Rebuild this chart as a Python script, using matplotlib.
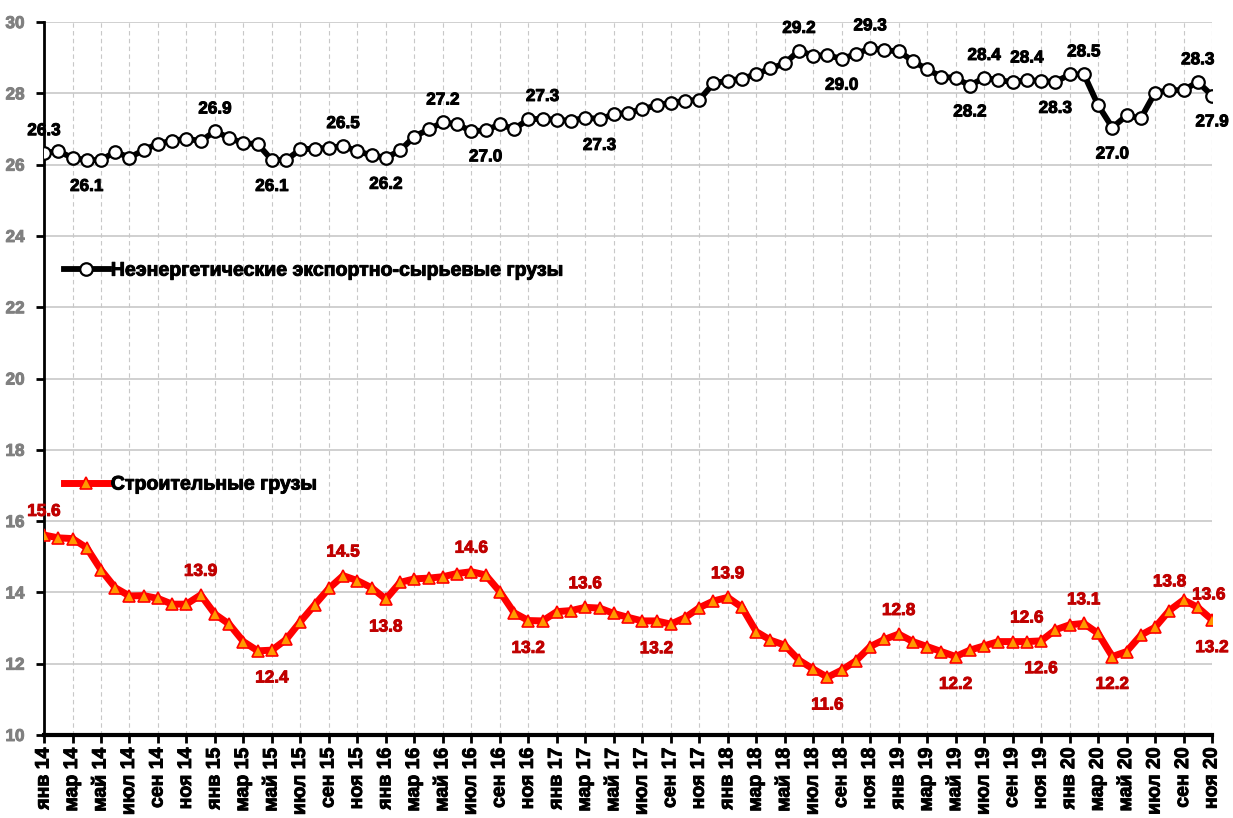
import matplotlib
matplotlib.use("Agg")
import matplotlib.pyplot as plt
from matplotlib import font_manager as fm
from matplotlib.font_manager import FontProperties
import matplotlib.patheffects as pe

plt.rcParams['font.family'] = ['Liberation Sans', 'DejaVu Sans']
plt.rcParams['font.weight'] = 'bold'

months = ["янв", "мар", "май", "июл", "сен", "ноя"]
years = ["14", "15", "16", "17", "18", "19", "20"]
tick_labels = [m + " " + y for y in years for m in months]

# неэнергетические экспортно-сырьевые грузы, янв 2014 - ноя 2020
export_raw = [
    26.33, 26.38, 26.19, 26.13, 26.13, 26.36, 26.20, 26.41, 26.59, 26.67,
    26.73, 26.66, 26.94, 26.75, 26.60, 26.58, 26.13, 26.13, 26.43, 26.45,
    26.47, 26.53, 26.37, 26.27, 26.19, 26.40, 26.79, 26.99, 27.19, 27.13,
    26.94, 26.96, 27.13, 27.00, 27.27, 27.29, 27.26, 27.23, 27.32, 27.28,
    27.41, 27.46, 27.55, 27.67, 27.74, 27.79, 27.82, 28.28, 28.36, 28.41,
    28.54, 28.70, 28.84, 29.20, 29.06, 29.07, 28.97, 29.10, 29.27, 29.21,
    29.18, 28.91, 28.67, 28.47, 28.43, 28.22, 28.44, 28.37, 28.32, 28.37,
    28.35, 28.32, 28.53, 28.54, 27.67, 27.04, 27.38, 27.30, 28.02, 28.09,
    28.09, 28.32, 27.94,
]

# строительные грузы
building = [
    15.61, 15.53, 15.51, 15.25, 14.63, 14.13, 13.90, 13.91, 13.83, 13.67,
    13.67, 13.93, 13.39, 13.11, 12.62, 12.36, 12.38, 12.68, 13.18, 13.65,
    14.11, 14.47, 14.33, 14.13, 13.81, 14.28, 14.38, 14.40, 14.44, 14.53,
    14.58, 14.49, 14.02, 13.43, 13.21, 13.20, 13.46, 13.49, 13.58, 13.56,
    13.41, 13.30, 13.20, 13.20, 13.11, 13.29, 13.57, 13.76, 13.86, 13.58,
    12.90, 12.66, 12.52, 12.10, 11.85, 11.62, 11.82, 12.08, 12.48, 12.68,
    12.83, 12.62, 12.48, 12.34, 12.20, 12.38, 12.50, 12.62, 12.62, 12.62,
    12.64, 12.95, 13.09, 13.13, 12.85, 12.20, 12.34, 12.80, 13.02, 13.49,
    13.79, 13.58, 13.23,
]

# подписи: индекс точки -> над / под линией
export_up = [0, 12, 21, 28, 35, 53, 58, 66, 69, 73, 81]
export_down = [3, 16, 24, 31, 39, 56, 65, 71, 75, 82]
building_up = [0, 11, 21, 30, 38, 48, 60, 69, 73, 80, 81]
building_down = [16, 24, 34, 43, 55, 64, 70, 75, 82]

# узкий жирный шрифт (как Arial Narrow), если он есть
narrow = [f.fname for f in fm.fontManager.ttflist
          if f.name == 'Liberation Sans Narrow' and f.weight in (700, 'bold')]
if narrow:
    def nf(size):
        return FontProperties(fname=narrow[0], size=size)
else:
    def nf(size):
        return FontProperties(family='Liberation Sans', weight='bold', size=size * 0.88)


def heavy(color):
    return [pe.withStroke(linewidth=0.7, foreground=color)]


x = list(range(len(export_raw)))

fig = plt.figure(figsize=(12.33, 8.18), dpi=100)
ax = fig.add_axes([0.0357, 0.1015, 0.9473, 0.8715])

l1, = ax.plot(x, export_raw, color='black', lw=4.2, marker='o', ms=9,
              mfc='white', mec='black', mew=1.6, zorder=4)
l2, = ax.plot(x, building, color='#FF0000', lw=5, marker='^', ms=9,
              mfc='#FF9900', mec='#FF0000', mew=1.2, zorder=4)

for i in export_up:
    ax.annotate("%.1f" % export_raw[i], (x[i], export_raw[i]), xytext=(0, 16),
                textcoords='offset points', ha='center', va='center',
                fontproperties=nf(14), color='black', path_effects=heavy('black'))
for i in export_down:
    ax.annotate("%.1f" % export_raw[i], (x[i], export_raw[i]), xytext=(0, -19),
                textcoords='offset points', ha='center', va='center',
                fontproperties=nf(14), color='black', path_effects=heavy('black'))
for i in building_up:
    dx = {80: -10, 81: 8}.get(i, 0)
    dy = {80: 13, 81: 9}.get(i, 17)
    ax.annotate("%.1f" % building[i], (x[i], building[i]), xytext=(dx, dy),
                textcoords='offset points', ha='center', va='center',
                fontproperties=nf(14), color='#C00000', path_effects=heavy('#C00000'))
for i in building_down:
    ax.annotate("%.1f" % building[i], (x[i], building[i]), xytext=(0, -20),
                textcoords='offset points', ha='center', va='center',
                fontproperties=nf(14), color='#C00000', path_effects=heavy('#C00000'))

ax.set_xlim(0, len(x) - 1)
ax.set_ylim(10, 30)
ax.set_yticks(range(10, 31, 2))
ax.set_xticks(x[::2])
ax.set_xticklabels(tick_labels, rotation=90, fontsize=14, fontweight='bold')
for t in ax.get_xticklabels():
    t.set_path_effects(heavy('black'))
for t in ax.get_yticklabels():
    t.set_fontproperties(nf(14))
    t.set_color('#808080')
    t.set_path_effects(heavy('#808080'))

ax.grid(axis='y', color='#C8C8C8', lw=1.2, ls='-')
ax.grid(axis='x', color='#C8C8C8', lw=0.8, ls=(0, (4, 3)))
ax.set_axisbelow(True)
for s in ['top', 'right']:
    ax.spines[s].set_visible(False)
ax.spines['left'].set_linewidth(2)
ax.spines['bottom'].set_linewidth(3)
ax.tick_params(axis='both', direction='out', length=6, width=2, color='black')
ax.tick_params(axis='x', pad=3)
ax.tick_params(axis='y', pad=8)

leg1 = ax.legend([l1], ["Неэнергетические экспортно-сырьевые грузы"],
                 loc='center left', bbox_to_anchor=(0.017, 0.652),
                 frameon=False, prop=nf(16), handlelength=2.3,
                 handletextpad=0.1, borderpad=0, borderaxespad=0)
ax.add_artist(leg1)
leg2 = ax.legend([l2], ["Строительные грузы"],
                 loc='center left', bbox_to_anchor=(0.017, 0.352),
                 frameon=False, prop=nf(16), handlelength=2.3,
                 handletextpad=0.1, borderpad=0, borderaxespad=0)
for lg in (leg1, leg2):
    for t in lg.get_texts():
        t.set_path_effects(heavy('black'))

fig.savefig("out.png", dpi=100)
